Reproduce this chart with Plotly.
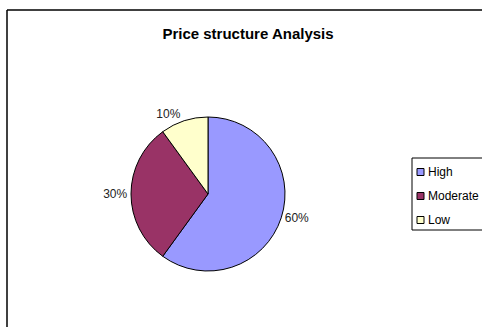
import plotly.graph_objects as go

labels = ["High", "Moderate", "Low"]
values = [60, 30, 10]
colors = ["#9999FF", "#993366", "#FFFFCC"]

W, H = 482, 327
cx, cy, r = 208, 194, 77

fig = go.Figure(go.Pie(
    labels=labels, values=values, sort=False, direction="clockwise", rotation=0,
    marker=dict(colors=colors, line=dict(color="black", width=1)),
    textinfo="percent", textposition="outside",
    textfont=dict(family="Arial, Liberation Sans", size=12, color="#222"),
    outsidetextfont=dict(family="Arial, Liberation Sans", size=12, color="#222"),
    domain=dict(x=[(cx - r) / W, (cx + r) / W], y=[1 - (cy + r) / H, 1 - (cy - r) / H]),
    hoverinfo="label+percent", showlegend=False,
))

shapes = [
    dict(type="line", xref="paper", yref="paper", x0=7 / W, x1=7 / W,
         y0=0, y1=1 - 10 / H, line=dict(color="black", width=1.5)),
    dict(type="line", xref="paper", yref="paper", x0=7 / W, x1=1,
         y0=1 - 10 / H, y1=1 - 10 / H, line=dict(color="black", width=1.5)),
    # legend box
    dict(type="rect", xref="paper", yref="paper", x0=412 / W, x1=1.1,
         y0=1 - 230 / H, y1=1 - 158 / H, line=dict(color="black", width=1)),
]
annotations = []
lx, ly0, dy, s = 417, 172, 24, 7
for i, (lab, col) in enumerate(zip(labels, colors)):
    yc = ly0 + i * dy
    shapes.append(dict(type="rect", xref="paper", yref="paper",
                       x0=lx / W, x1=(lx + s) / W,
                       y0=1 - (yc + s / 2) / H, y1=1 - (yc - s / 2) / H,
                       fillcolor=col, line=dict(color="black", width=1)))
    annotations.append(dict(xref="paper", yref="paper", x=(lx + s + 2) / W,
                            y=1 - yc / H, xanchor="left", yanchor="middle",
                            text=lab, showarrow=False,
                            font=dict(size=12, color="black")))

fig.update_layout(
    width=W, height=H, margin=dict(l=0, r=0, t=0, b=0, autoexpand=False),
    paper_bgcolor="white", plot_bgcolor="white",
    font=dict(family="Arial, Liberation Sans", color="black"),
    title=dict(text="<b>Price structure Analysis</b>", x=248 / W, xanchor="center",
               y=1 - 34 / H, yanchor="middle", font=dict(size=15)),
    shapes=shapes, annotations=annotations,
)

fig.write_html("out.html")
